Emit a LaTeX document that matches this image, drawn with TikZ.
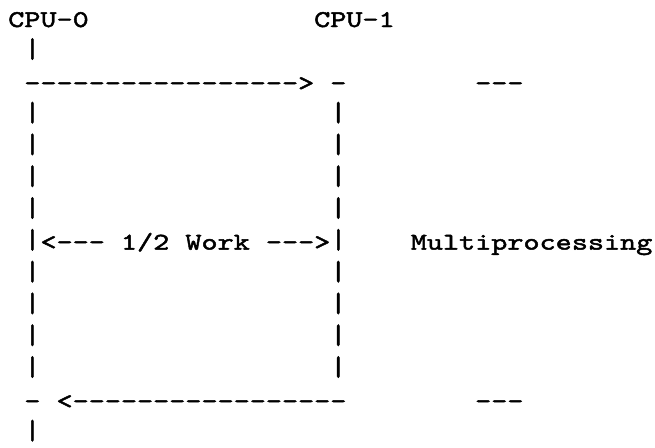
\documentclass[tikz,border=0pt]{standalone}
\usepackage{fontspec}
\usepackage{graphicx}
\setmonofont{lmmono10-regular.otf}[FakeStretch=1.278,FakeBold=2]
\newcommand\vbar{\raisebox{1pt}{\scalebox{1}[1.15]{|}}}
\begin{document}
\begin{tikzpicture}[x=0.75pt,y=-0.75pt,
  txt/.style={inner sep=0pt, anchor=base west, font=\ttfamily\fontsize{18}{18}\selectfont}]
\useasboundingbox (0,0) rectangle (655,447);
% row 1
\node[txt] (cpu0) at (8,27) {CPU-0};
\node[txt] (cpu1) at (313.9,27) {CPU-1};
% row 2
\node[txt] (l2) at (24.1,58.8) {\vbar};
% row 3
\node[txt] (fwd) at (24.1,90.6) {----------------->};
\node[txt] (rtop) at (330,90.6) {-};
\node[txt] (mtop) at (474.9,90.6) {---};
% rows 4-7 and 9-12
\foreach \r/\y in {4/122.4,5/154.2,6/186,7/217.8,9/281.4,10/313.2,11/345,12/376.8}{
  \node[txt] (lb\r) at (24.1,\y) {\vbar};
  \node[txt] (rb\r) at (330,\y) {\vbar};
}
% row 8
\node[txt] (work) at (24.1,249.6) {\vbar<--- 1/2 Work --->\vbar};
\node[txt] (mp) at (410.5,249.6) {Multiprocessing};
% row 13
\node[txt] (lbot) at (24.1,408.6) {-};
\node[txt] (back) at (56.3,408.6) {<-----------------};
\node[txt] (mbot) at (474.9,408.6) {---};
% row 14
\node[txt] (l14) at (24.1,440.4) {\vbar};
\end{tikzpicture}
\end{document}
